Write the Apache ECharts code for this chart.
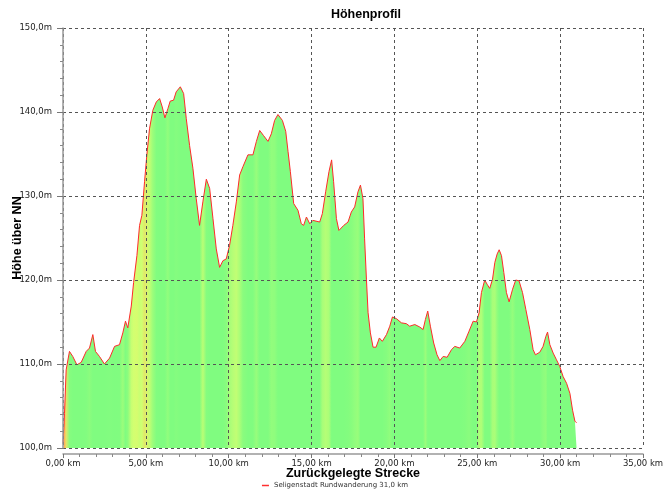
<!DOCTYPE html>
<html>
<head>
<meta charset="utf-8">
<script src="https://cdn.jsdelivr.net/npm/echarts@6/dist/echarts.min.js"></script>
<style>html,body{margin:0;padding:0;background:#fff;}#c{width:670px;height:489px;}</style>
</head>
<body>
<div id="c"></div>
<script>
// Distance along route (km)
const distanceKm = [0,0.04,0.09,0.19,0.39,0.59,0.84,1.1,1.4,1.6,1.8,1.96,2.2,2.5,2.81,3.11,3.41,3.61,3.77,3.91,4.12,4.26,4.46,4.62,4.76,4.92,5.06,5.22,5.42,5.63,5.83,5.99,6.15,6.33,6.47,6.67,6.83,7.08,7.28,7.44,7.64,7.84,8.04,8.24,8.44,8.65,8.85,9.05,9.25,9.45,9.65,9.85,10.05,10.25,10.46,10.66,10.86,11.16,11.46,11.67,11.87,12.1,12.37,12.57,12.77,12.97,13.24,13.44,13.58,13.72,13.92,14.18,14.38,14.52,14.69,14.89,15.08,15.49,15.65,15.85,16.05,16.21,16.33,16.5,16.65,16.94,17.2,17.4,17.6,17.8,17.95,18.1,18.2,18.31,18.41,18.55,18.71,18.89,19.09,19.27,19.52,19.72,19.88,20.12,20.42,20.72,20.92,21.23,21.53,21.73,21.87,22.01,22.17,22.37,22.57,22.74,22.94,23.18,23.44,23.64,23.94,24.25,24.5,24.75,24.95,25.11,25.25,25.45,25.59,25.75,25.92,26.06,26.2,26.32,26.46,26.6,26.76,26.92,27.13,27.32,27.52,27.73,27.93,28.17,28.37,28.51,28.77,28.97,29.14,29.24,29.38,29.58,29.78,29.98,30.18,30.39,30.59,30.75,30.89,30.99];
// Elevation (m)
const elevationM = [100.5,102,104.1,109.3,111.5,110.9,109.9,110.2,111.5,111.9,113.5,111.5,110.9,110.0,110.7,112.1,112.3,113.7,115.1,114.3,116.9,119.7,122.9,126.5,127.7,131.7,134.9,138.0,140.2,141.2,141.6,140.6,139.3,140.4,141.3,141.4,142.4,143.0,142.2,139.2,136.0,133.3,129.7,126.5,129.3,132.0,130.9,127.3,123.7,121.5,122.3,122.5,124.1,126.5,129.3,132.5,133.5,134.9,134.9,136.5,137.8,137.2,136.5,137.4,139.0,139.7,139.0,137.7,135.3,132.9,129.1,128.3,126.7,126.5,127.5,126.7,127.1,126.9,127.9,130.5,132.9,134.3,131.7,127.3,125.9,126.5,126.9,128.1,128.7,130.5,131.3,129.7,124.9,120.1,116.1,113.7,112.0,112.0,113.1,112.7,113.5,114.5,115.6,115.4,114.9,114.8,114.5,114.7,114.4,114.1,115.3,116.3,114.5,112.5,111.1,110.4,110.9,110.8,111.7,112.1,111.9,112.7,113.9,115.1,115.0,116.1,118.5,120.0,119.5,119.0,120.1,122.1,123.1,123.6,122.9,120.9,118.5,117.4,118.9,120.0,119.9,118.5,116.5,114.1,111.7,111.1,111.4,112.1,113.3,113.8,112.3,111.3,110.5,109.7,108.5,107.7,106.5,104.5,103.2,103.0];
const seriesName = 'Seligenstadt Rundwanderung 31,0 km';
const yTicks = {min: 100, max: 150, interval: 10};
const xTicks = {min: 0, max: 35, interval: 5};

const points = distanceKm.map((d, i) => [d, elevationM[i]]);

// fill colour stops derived from the slope of the profile
function mix(a, b, t) { return a.map((v, i) => Math.round(v + (b[i] - v) * t)); }
const green = [128, 252, 128], yellow = [212, 255, 112], orange = [255, 180, 90];
const dMin = distanceKm[0], dMax = distanceKm[distanceKm.length - 1];
const stops = points.map((p, i) => {
  const a = points[Math.max(0, i - 1)], b = points[Math.min(points.length - 1, i + 1)];
  const slope = (b[1] - a[1]) / Math.max(0.01, b[0] - a[0]);
  let c;
  if (slope <= 3) c = green;
  else if (slope <= 18) c = mix(green, yellow, (slope - 3) / 15);
  else c = mix(yellow, orange, Math.min(1, (slope - 18) / 20));
  return {offset: (p[0] - dMin) / (dMax - dMin), color: 'rgb(' + c.join(',') + ')'};
});

const chart = echarts.init(document.getElementById('c'), null, {renderer: 'canvas'});
const lbl = {fontFamily: 'DejaVu Sans', fontSize: 8.5, color: '#222'};
chart.setOption({
  animation: false,
  backgroundColor: '#fff',
  title: {
    text: 'Höhenprofil', left: 361, top: 3, textAlign: 'center',
    textStyle: {fontFamily: 'Liberation Sans', fontWeight: 'bold', fontSize: 12.5, color: '#000'}
  },
  legend: {
    bottom: -5, left: 'center', itemWidth: 7, itemHeight: 1.5, icon: 'rect', itemGap: 4,
    textStyle: {fontFamily: 'DejaVu Sans', fontSize: 7, color: '#333'},
    data: [{name: seriesName, itemStyle: {color: '#ff3030'}}]
  },
  grid: {left: 63, right: 27, top: 28, bottom: 41, containLabel: false, outerBoundsMode: 'none'},
  xAxis: {
    type: 'value', min: xTicks.min, max: xTicks.max, interval: xTicks.interval,
    offset: 6,
    name: 'Zurückgelegte Strecke', nameLocation: 'middle', nameGap: 13, nameMoveOverlap: false,
    nameTextStyle: {fontFamily: 'Liberation Sans', fontWeight: 'bold', fontSize: 12.5, color: '#000'},
    axisLine: {show: true, lineStyle: {color: '#999', width: 1.5}},
    axisTick: {show: true, length: 4, lineStyle: {color: '#777'}},
    minorTick: {show: true, splitNumber: 5, length: 3, lineStyle: {color: '#888'}},
    axisLabel: Object.assign({margin: 5, formatter: v => v.toFixed(2).replace('.', ',') + ' km'}, lbl),
    splitLine: {show: true, lineStyle: {color: '#555', type: [3, 3], width: 1}}
  },
  yAxis: {
    type: 'value', min: yTicks.min, max: yTicks.max, interval: yTicks.interval,
    name: 'Höhe über NN', nameLocation: 'middle', nameGap: 39, nameRotate: 90, nameMoveOverlap: false,
    nameTextStyle: {fontFamily: 'Liberation Sans', fontWeight: 'bold', fontSize: 12.5, color: '#000'},
    axisLine: {show: true, lineStyle: {color: '#999', width: 1.5}},
    axisTick: {show: true, length: 6, lineStyle: {color: '#777'}},
    minorTick: {show: true, splitNumber: 5, length: 3, lineStyle: {color: '#888'}},
    axisLabel: Object.assign({margin: 11, formatter: v => v.toFixed(1).replace('.', ',') + 'm'}, lbl),
    splitLine: {show: true, lineStyle: {color: '#555', type: [3, 3], width: 1}}
  },
  series: [{
    name: seriesName, type: 'line', data: points, z: -1,
    showSymbol: false, symbol: 'none', smooth: false,
    lineStyle: {color: '#ff2a2a', width: 1},
    itemStyle: {color: '#ff3030'},
    areaStyle: {opacity: 1, color: new echarts.graphic.LinearGradient(0, 0, 1, 0, stops)}
  }]
});
</script>
</body>
</html>
